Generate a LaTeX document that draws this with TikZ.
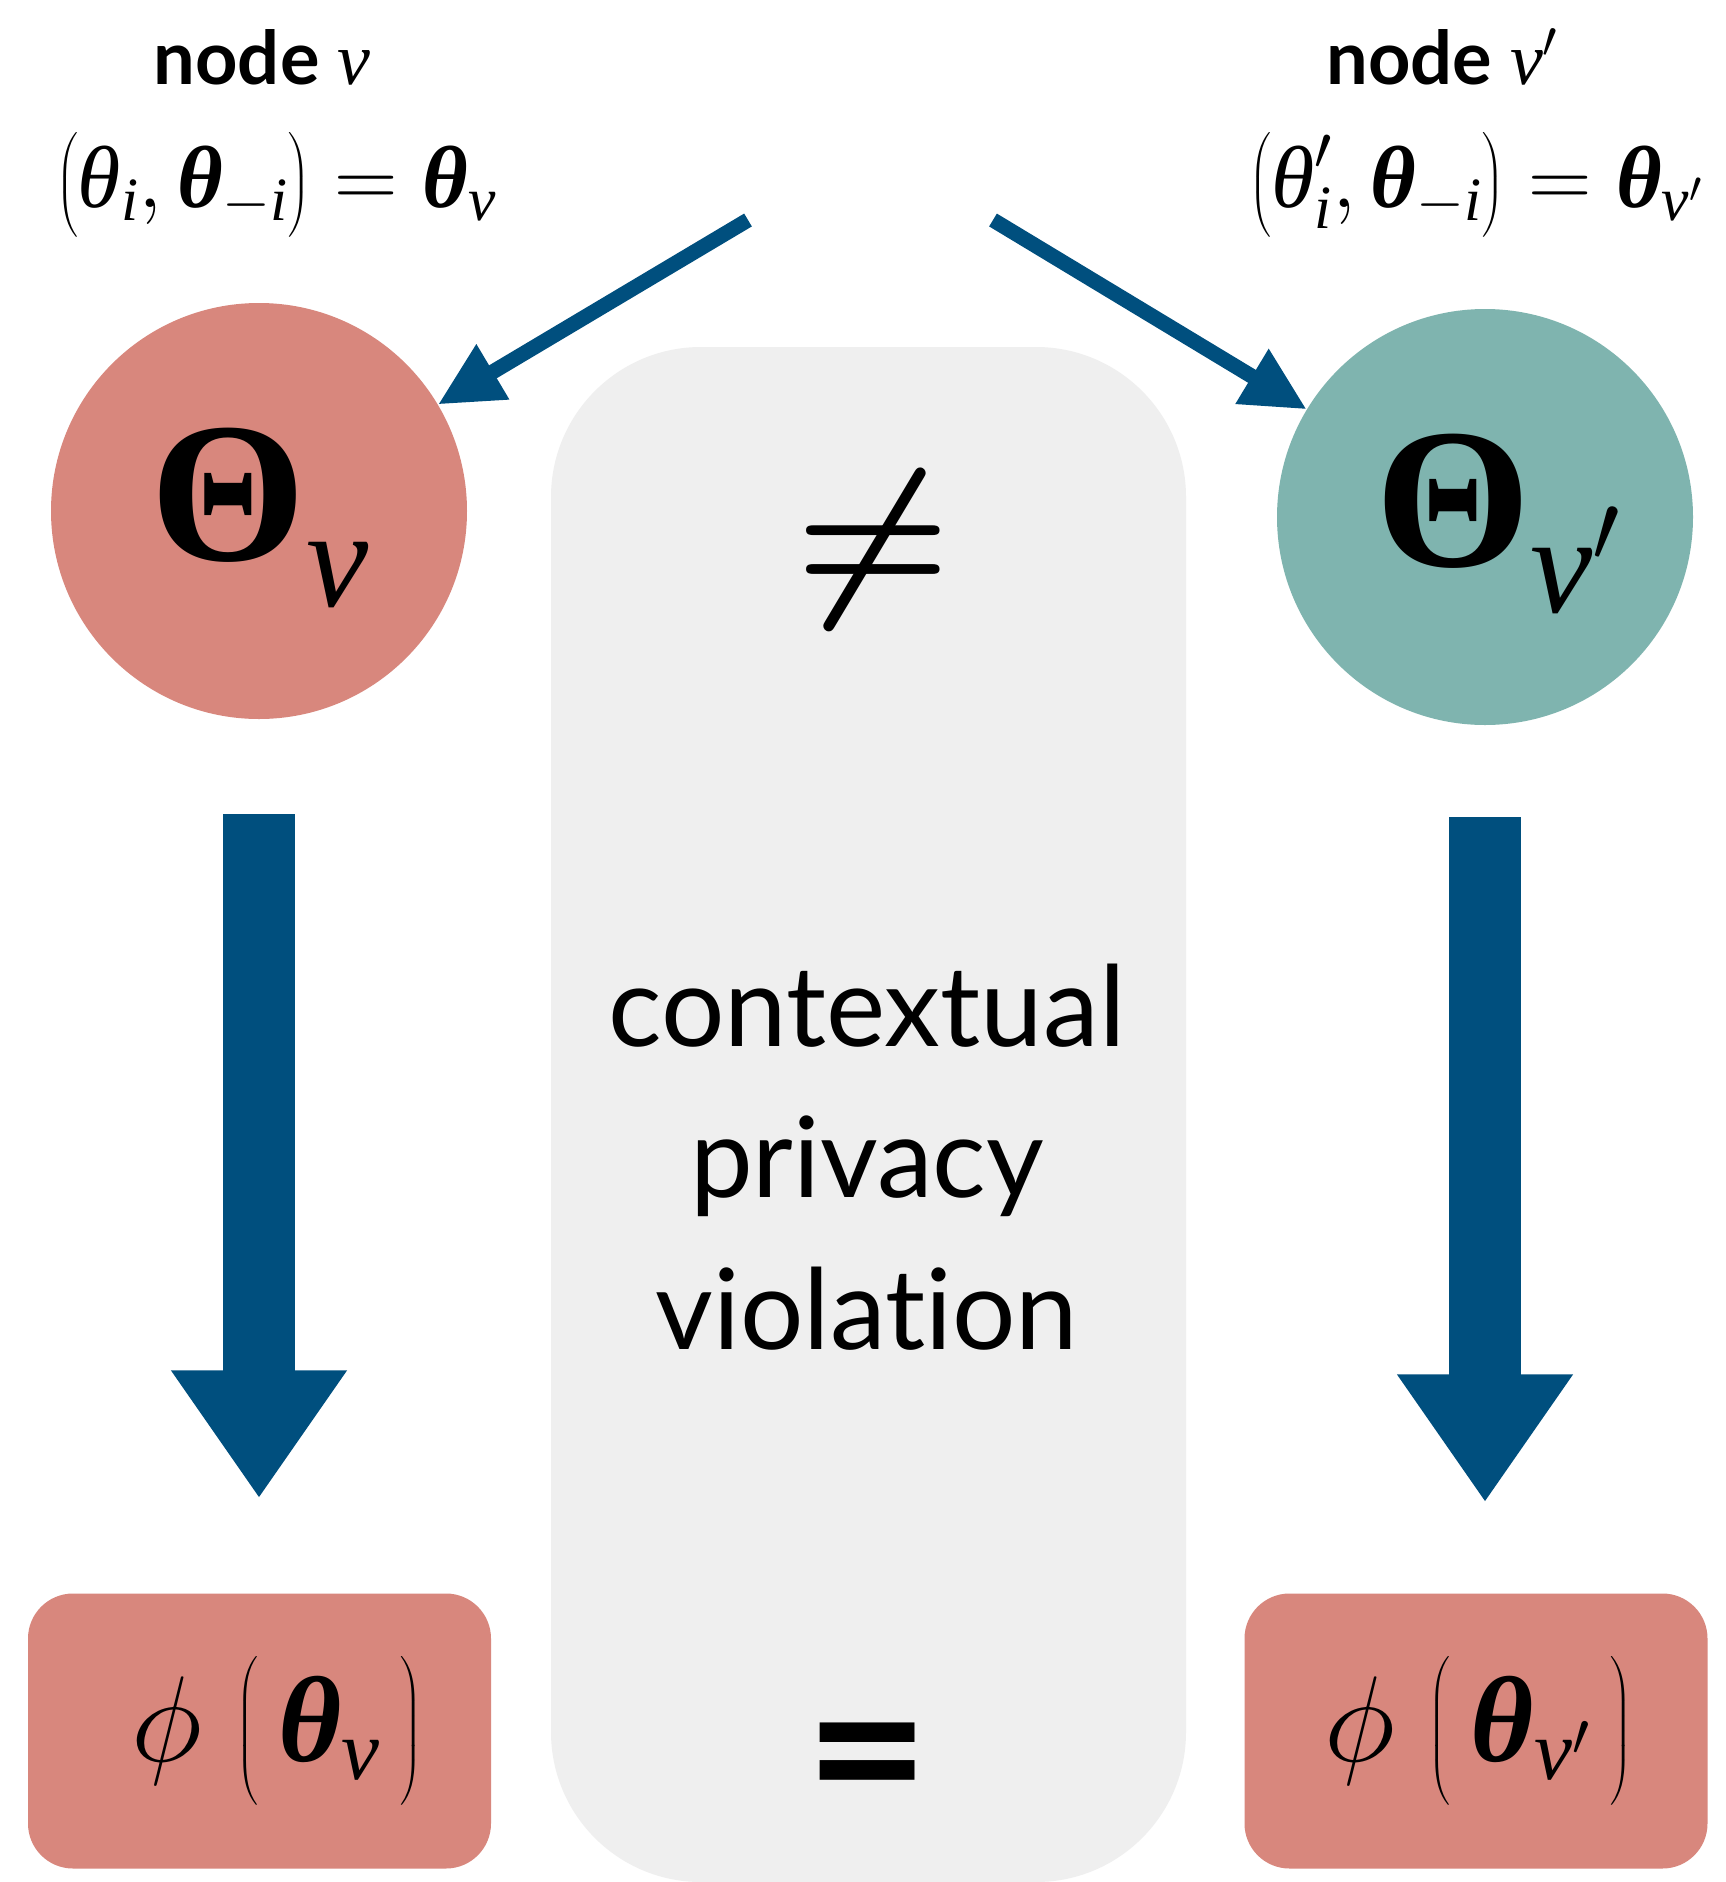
\RequirePackage{fix-cm}
\documentclass[tikz,border=0pt]{standalone}
\usepackage{amsmath}
\usepackage[no-math]{fontspec}
\setmainfont{Lato}[Ligatures={NoCommon,NoContextual}]
\newfontfamily\tms{Liberation Serif}
\usetikzlibrary{arrows.meta}
\definecolor{pinkc}{HTML}{D8877D}
\definecolor{tealc}{HTML}{7FB4AF}
\definecolor{navyc}{HTML}{004F7E}
\definecolor{grayc}{HTML}{EFEFEF}
\newcommand\Tv{\text{\tms\mdseries\itshape v}}
\newcommand\Ti{\text{\tms\mdseries\itshape i}}
\newcommand\Tth{\text{\tms\mdseries\itshape θ}}
\newcommand\Tbth{\text{\tms\bfseries\itshape θ}}
\newcommand\TTh{\text{\tms\bfseries\upshape Θ}}
\newcommand\Tvlow{\text{\raisebox{-16pt}{\tms\mdseries\itshape v}}}
\newcommand\Tvlowp{\text{\raisebox{-16pt}{\tms\mdseries\itshape v$'$}}}
\tikzset{
  circ/.style={circle, minimum size=416pt, inner sep=0pt},
  rbox/.style={fill=pinkc, rounded corners=45pt, minimum width=463pt, minimum height=275pt, inner sep=0pt},
  thinarr/.style={draw=navyc, line width=15pt, -{Triangle[width=60pt,length=64pt]}},
  bigarr/.style={draw=navyc, line width=72pt, -{Triangle[width=167pt,length=128pt]}},
  ttl/.style={anchor=base, font=\fontsize{74}{80}\selectfont\bfseries},
  mth/.style={anchor=base, font=\fontsize{88}{121}\selectfont},
  boxm/.style={font=\fontsize{122}{167}\selectfont},
  circm/.style={font=\fontsize{200}{200}\selectfont},
  ctxt/.style={anchor=base, font=\fontsize{112}{151}\selectfont},
}
\begin{document}
\begin{tikzpicture}[x=1pt,y=-1pt]
\fill[white] (0,0) rectangle (1726,1882);
\useasboundingbox (0,0) rectangle (1726,1882);
% gray central panel
\node[fill=grayc, rounded corners=150pt, minimum width=635pt, minimum height=1535pt, inner sep=0pt] (gbox) at (868.5,1114.5) {};
% titles
\node[ttl] (t1) at (262,84) {node $\Tv$};
\node[mth] (m1) at (276,207) {$\bigl(\Tth_{\Ti},\Tbth_{-\Ti}\bigr)=\Tbth_{\Tv}$};
\node[ttl] (t2) at (1442,84) {node $\Tv'$};
\node[mth] (m2) at (1476,207) {$\bigl(\Tth'_{\Ti},\Tbth_{-\Ti}\bigr)=\Tbth_{\Tv'}$};
% circles
\node[circ, fill=pinkc] (c1) at (259,511) {};
\node[circm] (c1t) at (260,518) {$\TTh_{\Tvlow}$};
\node[circ, fill=tealc] (c2) at (1485,517) {};
\node[circm] (c2t) at (1498,524) {$\TTh_{\Tvlowp}$};
% bottom boxes
\node[rbox] (b1) at (259.5,1731) {};
\node[boxm] (b1t) at (277,1731) {$\phi\;\bigl(\,\Tbth_{\Tv}\,\bigr)$};
\node[rbox] (b2) at (1476,1731) {};
\node[boxm] (b2t) at (1478,1731) {$\phi\;\bigl(\,\Tbth_{\Tv'}\,\bigr)$};
% central texts
\node (neq) at (873,550) {\fontsize{178}{178}\selectfont$\boldsymbol{\neq}$};
\node[ctxt] (l1) at (867,1046) {contextual};
\node[ctxt] (l2) at (867,1197) {privacy};
\node[ctxt] (l3) at (867,1349) {violation};
\node (eq) at (868,1773) {\fontsize{214}{214}\selectfont\bfseries =};
% arrows
\coordinate (s1) at (748,220);
\coordinate (s2) at (993,220);
\draw[thinarr] (s1) -- (c1);
\draw[thinarr] (s2) -- (c2);
\draw[bigarr, shorten <=95pt, shorten >=95pt] (c1.south) -- (c1.south |- b1.north);
\draw[bigarr, shorten <=92pt, shorten >=91pt] (c2.south) -- (c2.south |- b2.north);
\end{tikzpicture}
\end{document}
